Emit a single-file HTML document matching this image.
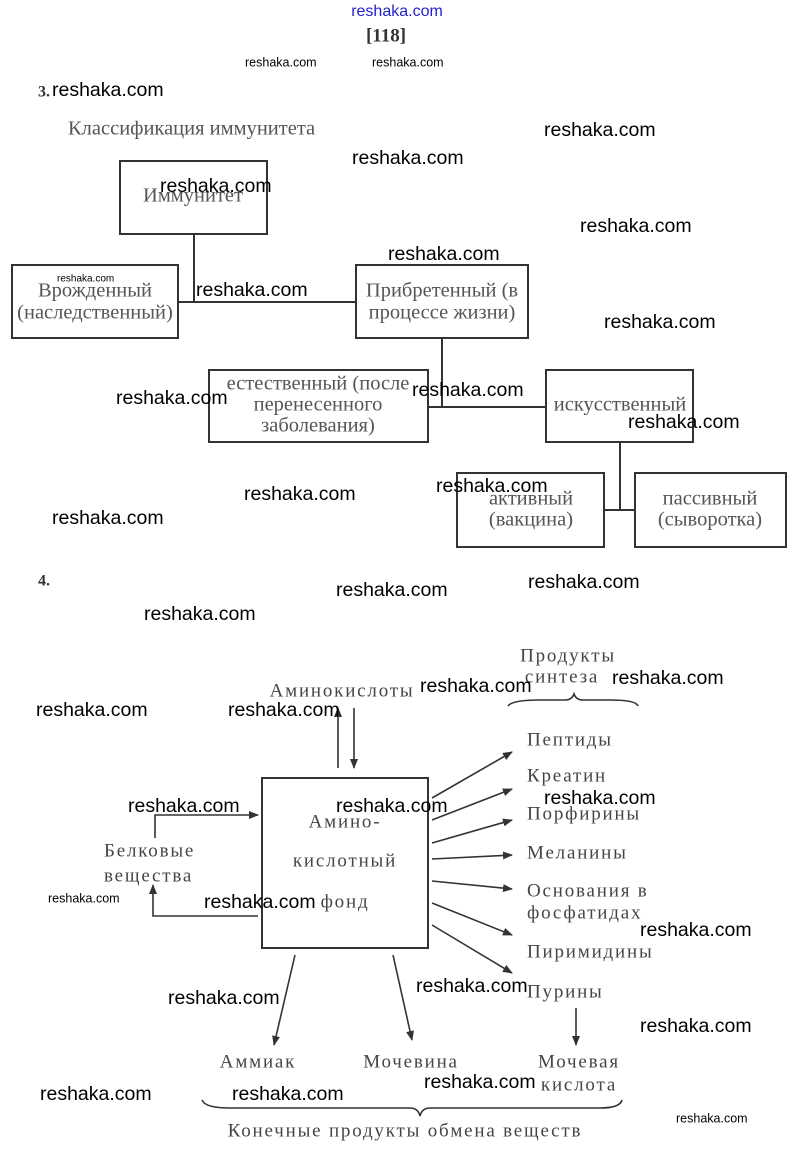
<!DOCTYPE html>
<html><head><meta charset="utf-8"><style>
html,body{margin:0;padding:0;background:#fff}
svg{display:block}
.w{font-family:"Liberation Sans",sans-serif;font-size:19.5px;fill:#000}
.ws{font-family:"Liberation Sans",sans-serif;font-size:12.5px;fill:#000}
.s{font-family:"Liberation Serif","Noto Serif CJK SC",serif;font-size:20.5px;fill:#555}
.b{font-family:"Liberation Serif","Noto Serif CJK SC",serif;font-size:19px;fill:#444;letter-spacing:1.8px}
</style></head><body>
<svg width="791" height="1164" viewBox="0 0 791 1164" xmlns="http://www.w3.org/2000/svg">
<g dominant-baseline="middle">
<text x="397" y="12" text-anchor="middle" font-family="Liberation Sans,sans-serif" font-size="16" fill="#22c">reshaka.com</text>
<text x="386" y="37" text-anchor="middle" font-family="Liberation Serif,serif" font-size="19" font-weight="bold" fill="#333">[118]</text>
<text x="245" y="63" class="ws">reshaka.com</text>
<text x="372" y="63" class="ws">reshaka.com</text>
<text x="38" y="93" font-family="Liberation Serif,serif" font-size="16" font-weight="bold" fill="#333">3.</text>
<text x="68" y="130" class="s" font-size="19.5">Классификация иммунитета</text>

<g fill="none" stroke="#333" stroke-width="2">
<rect x="120" y="161" width="147" height="73"/>
<rect x="12" y="265" width="166" height="73"/>
<rect x="356" y="265" width="172" height="73"/>
<rect x="209" y="370" width="219" height="72"/>
<rect x="546" y="370" width="147" height="72"/>
<rect x="457" y="473" width="147" height="74"/>
<rect x="635" y="473" width="151" height="74"/>
<path d="M194 234V302M178 302H356M442 338V407M428 407H546M620 442V510M604 510H635"/>
</g>
<text x="193" y="197" class="s" text-anchor="middle">Иммунитет</text>
<text x="95" y="292" class="s" text-anchor="middle">Врожденный</text>
<text x="95" y="314" class="s" text-anchor="middle">(наследственный)</text>
<text x="442" y="292" class="s" text-anchor="middle">Прибретенный (в</text>
<text x="442" y="314" class="s" text-anchor="middle">процессе жизни)</text>
<text x="318" y="385" class="s" text-anchor="middle">естественный (после</text>
<text x="318" y="406" class="s" text-anchor="middle">перенесенного</text>
<text x="318" y="427" class="s" text-anchor="middle">заболевания)</text>
<text x="620" y="406" class="s" text-anchor="middle">искусственный</text>
<text x="531" y="500" class="s" text-anchor="middle">активный</text>
<text x="531" y="521" class="s" text-anchor="middle">(вакцина)</text>
<text x="710" y="500" class="s" text-anchor="middle">пассивный</text>
<text x="710" y="521" class="s" text-anchor="middle">(сыворотка)</text>

<text x="38" y="582" font-family="Liberation Serif,serif" font-size="16" font-weight="bold" fill="#333">4.</text>

<defs><marker id="a" markerWidth="10" markerHeight="8" refX="9" refY="4" orient="auto" markerUnits="userSpaceOnUse"><path d="M0,0L10,4L0,8z" fill="#333"/></marker></defs>
<g fill="none" stroke="#333" stroke-width="1.6" marker-end="url(#a)">
<path d="M338 768V708"/><path d="M354 708V768"/>
<path d="M432 798L512 752"/><path d="M432 820L512 789"/><path d="M432 843L512 820"/>
<path d="M432 859L512 855"/><path d="M432 881L512 889"/><path d="M432 903L512 935"/><path d="M432 925L512 973"/>
<path d="M155 838V815H258"/><path d="M258 916H153V885"/>
<path d="M295 955L274 1045"/><path d="M393 955L412 1040"/><path d="M576 1008V1045"/>
</g>
<rect x="262" y="778" width="166" height="170" fill="none" stroke="#333" stroke-width="2"/>
<g fill="none" stroke="#333" stroke-width="1.6">
<path d="M508 706Q512 700 540 700H565Q572 700 574 694Q576 700 583 700H610Q636 700 638 706"/>
<path d="M202 1100Q205 1108 230 1108H410Q418 1108 420 1116Q422 1108 430 1108H600Q620 1108 622 1100"/>
</g>
<text x="568" y="657" class="b" text-anchor="middle">Продукты</text>
<text x="562" y="678" class="b" text-anchor="middle">синтеза</text>
<text x="342" y="692" class="b" text-anchor="middle">Аминокислоты</text>
<text x="527" y="741" class="b">Пептиды</text>
<text x="527" y="777" class="b">Креатин</text>
<text x="527" y="815" class="b">Порфирины</text>
<text x="527" y="854" class="b">Меланины</text>
<text x="527" y="892" class="b">Основания в</text>
<text x="527" y="914" class="b">фосфатидах</text>
<text x="527" y="953" class="b">Пиримидины</text>
<text x="527" y="993" class="b">Пурины</text>
<text x="104" y="852" class="b">Белковые</text>
<text x="104" y="877" class="b">вещества</text>
<text x="345" y="823" class="b" text-anchor="middle">Амино-</text>
<text x="345" y="862" class="b" text-anchor="middle">кислотный</text>
<text x="345" y="903" class="b" text-anchor="middle">фонд</text>
<text x="258" y="1063" class="b" text-anchor="middle">Аммиак</text>
<text x="411" y="1063" class="b" text-anchor="middle">Мочевина</text>
<text x="579" y="1063" class="b" text-anchor="middle">Мочевая</text>
<text x="579" y="1086" class="b" text-anchor="middle">кислота</text>
<text x="405" y="1132" class="b" text-anchor="middle">Конечные продукты обмена веществ</text>

<g class="w">
<text x="52" y="91">reshaka.com</text><text x="544" y="131">reshaka.com</text>
<text x="352" y="159">reshaka.com</text><text x="160" y="187">reshaka.com</text>
<text x="580" y="227">reshaka.com</text><text x="388" y="255">reshaka.com</text>
<text x="196" y="291">reshaka.com</text><text x="604" y="323">reshaka.com</text>
<text x="116" y="399">reshaka.com</text><text x="412" y="391">reshaka.com</text>
<text x="628" y="423">reshaka.com</text><text x="244" y="495">reshaka.com</text>
<text x="436" y="487">reshaka.com</text><text x="52" y="519">reshaka.com</text>
<text x="528" y="583">reshaka.com</text><text x="336" y="591">reshaka.com</text>
<text x="144" y="615">reshaka.com</text><text x="420" y="687">reshaka.com</text>
<text x="612" y="679">reshaka.com</text><text x="36" y="711">reshaka.com</text>
<text x="228" y="711">reshaka.com</text><text x="128" y="807">reshaka.com</text>
<text x="336" y="807">reshaka.com</text><text x="544" y="799">reshaka.com</text>
<text x="204" y="903">reshaka.com</text><text x="640" y="931">reshaka.com</text>
<text x="168" y="999">reshaka.com</text><text x="416" y="987">reshaka.com</text>
<text x="640" y="1027">reshaka.com</text><text x="40" y="1095">reshaka.com</text>
<text x="232" y="1095">reshaka.com</text><text x="424" y="1083">reshaka.com</text>
</g>
<text x="57" y="279" font-family="Liberation Sans,sans-serif" font-size="10">reshaka.com</text>
<text x="48" y="899" class="ws">reshaka.com</text>
<text x="676" y="1119" class="ws">reshaka.com</text>
</g>
</svg>
</body></html>
